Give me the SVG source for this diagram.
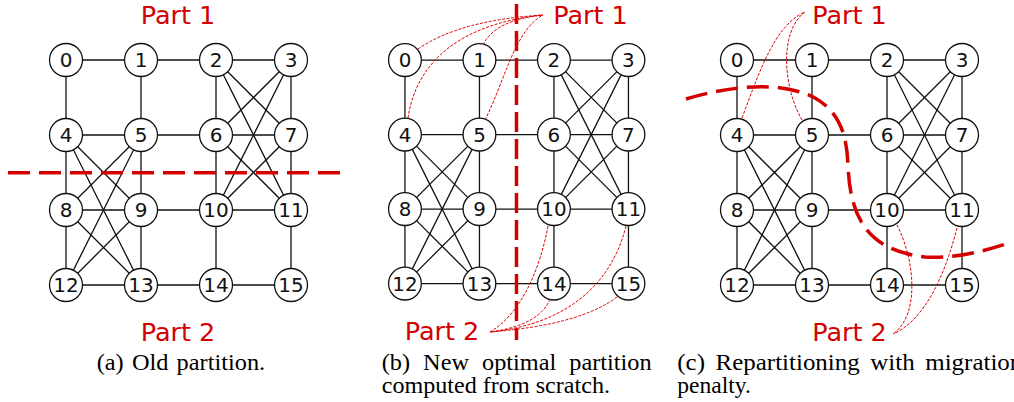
<svg xmlns="http://www.w3.org/2000/svg" width="1014" height="402" viewBox="0 0 1014 402">
<style>
.e{stroke:#111;stroke-width:1.3;fill:none}
.n circle{fill:#fff;stroke:#111;stroke-width:1.3}
.n text{font-family:"DejaVu Sans",sans-serif;font-size:20px;fill:#111;text-anchor:middle}
.part{font-family:"DejaVu Sans",sans-serif;font-size:25.5px;fill:#d40000;text-anchor:middle}
.cut{stroke:#d40000;stroke-width:3.5;fill:none;stroke-dasharray:22 9}
.mig{stroke:#e00000;stroke-width:1;fill:none;stroke-dasharray:3 1.5}
.cap{font-family:"Liberation Serif","Times New Roman",serif;font-size:23px;fill:#000}
</style>
<rect width="1014" height="402" fill="#fff"/>

<!-- Panel A -->
<g id="panel-a">
<g id="a-edges">
<line class="e" x1="66" y1="60" x2="141" y2="60"/><line class="e" x1="141" y1="60" x2="216" y2="60"/><line class="e" x1="216" y1="60" x2="291" y2="60"/>
<line class="e" x1="66" y1="135" x2="141" y2="135"/><line class="e" x1="141" y1="135" x2="216" y2="135"/><line class="e" x1="216" y1="135" x2="291" y2="135"/>
<line class="e" x1="66" y1="210" x2="141" y2="210"/><line class="e" x1="141" y1="210" x2="216" y2="210"/><line class="e" x1="216" y1="210" x2="291" y2="210"/>
<line class="e" x1="66" y1="285" x2="141" y2="285"/><line class="e" x1="141" y1="285" x2="216" y2="285"/><line class="e" x1="216" y1="285" x2="291" y2="285"/>
<line class="e" x1="66" y1="60" x2="66" y2="285"/><line class="e" x1="141" y1="60" x2="141" y2="285"/><line class="e" x1="216" y1="60" x2="216" y2="285"/><line class="e" x1="291" y1="60" x2="291" y2="285"/>
<line class="e" x1="66" y1="135" x2="141" y2="210"/><line class="e" x1="66" y1="135" x2="141" y2="285"/><line class="e" x1="141" y1="135" x2="66" y2="210"/>
<line class="e" x1="141" y1="135" x2="66" y2="285"/><line class="e" x1="66" y1="210" x2="141" y2="285"/><line class="e" x1="141" y1="210" x2="66" y2="285"/>
<line class="e" x1="216" y1="60" x2="291" y2="135"/><line class="e" x1="216" y1="60" x2="291" y2="210"/><line class="e" x1="291" y1="60" x2="216" y2="135"/>
<line class="e" x1="291" y1="60" x2="216" y2="210"/><line class="e" x1="216" y1="135" x2="291" y2="210"/><line class="e" x1="291" y1="135" x2="216" y2="210"/>
</g>
<g id="a-n0" class="n"><circle cx="66" cy="60" r="16.5"/><text x="66" y="67">0</text></g>
<g id="a-n1" class="n"><circle cx="141" cy="60" r="16.5"/><text x="141" y="67">1</text></g>
<g id="a-n2" class="n"><circle cx="216" cy="60" r="16.5"/><text x="216" y="67">2</text></g>
<g id="a-n3" class="n"><circle cx="291" cy="60" r="16.5"/><text x="291" y="67">3</text></g>
<g id="a-n4" class="n"><circle cx="66" cy="135" r="16.5"/><text x="66" y="142">4</text></g>
<g id="a-n5" class="n"><circle cx="141" cy="135" r="16.5"/><text x="141" y="142">5</text></g>
<g id="a-n6" class="n"><circle cx="216" cy="135" r="16.5"/><text x="216" y="142">6</text></g>
<g id="a-n7" class="n"><circle cx="291" cy="135" r="16.5"/><text x="291" y="142">7</text></g>
<g id="a-n8" class="n"><circle cx="66" cy="210" r="16.5"/><text x="66" y="217">8</text></g>
<g id="a-n9" class="n"><circle cx="141" cy="210" r="16.5"/><text x="141" y="217">9</text></g>
<g id="a-n10" class="n"><circle cx="216" cy="210" r="16.5"/><text x="216" y="217">10</text></g>
<g id="a-n11" class="n"><circle cx="291" cy="210" r="16.5"/><text x="291" y="217">11</text></g>
<g id="a-n12" class="n"><circle cx="66" cy="285" r="16.5"/><text x="66" y="292">12</text></g>
<g id="a-n13" class="n"><circle cx="141" cy="285" r="16.5"/><text x="141" y="292">13</text></g>
<g id="a-n14" class="n"><circle cx="216" cy="285" r="16.5"/><text x="216" y="292">14</text></g>
<g id="a-n15" class="n"><circle cx="291" cy="285" r="16.5"/><text x="291" y="292">15</text></g>
</g>

<!-- Panel B -->
<g id="panel-b" transform="translate(339.4,0.5) scale(0.9933)">
<g id="b-edges">
<line class="e" x1="66" y1="60" x2="141" y2="60"/><line class="e" x1="141" y1="60" x2="216" y2="60"/><line class="e" x1="216" y1="60" x2="291" y2="60"/>
<line class="e" x1="66" y1="135" x2="141" y2="135"/><line class="e" x1="141" y1="135" x2="216" y2="135"/><line class="e" x1="216" y1="135" x2="291" y2="135"/>
<line class="e" x1="66" y1="210" x2="141" y2="210"/><line class="e" x1="141" y1="210" x2="216" y2="210"/><line class="e" x1="216" y1="210" x2="291" y2="210"/>
<line class="e" x1="66" y1="285" x2="141" y2="285"/><line class="e" x1="141" y1="285" x2="216" y2="285"/><line class="e" x1="216" y1="285" x2="291" y2="285"/>
<line class="e" x1="66" y1="60" x2="66" y2="285"/><line class="e" x1="141" y1="60" x2="141" y2="285"/><line class="e" x1="216" y1="60" x2="216" y2="285"/><line class="e" x1="291" y1="60" x2="291" y2="285"/>
<line class="e" x1="66" y1="135" x2="141" y2="210"/><line class="e" x1="66" y1="135" x2="141" y2="285"/><line class="e" x1="141" y1="135" x2="66" y2="210"/>
<line class="e" x1="141" y1="135" x2="66" y2="285"/><line class="e" x1="66" y1="210" x2="141" y2="285"/><line class="e" x1="141" y1="210" x2="66" y2="285"/>
<line class="e" x1="216" y1="60" x2="291" y2="135"/><line class="e" x1="216" y1="60" x2="291" y2="210"/><line class="e" x1="291" y1="60" x2="216" y2="135"/>
<line class="e" x1="291" y1="60" x2="216" y2="210"/><line class="e" x1="216" y1="135" x2="291" y2="210"/><line class="e" x1="291" y1="135" x2="216" y2="210"/>
</g>
<g id="b-n0" class="n"><circle cx="66" cy="60" r="16.5"/><text x="66" y="67">0</text></g>
<g id="b-n1" class="n"><circle cx="141" cy="60" r="16.5"/><text x="141" y="67">1</text></g>
<g id="b-n2" class="n"><circle cx="216" cy="60" r="16.5"/><text x="216" y="67">2</text></g>
<g id="b-n3" class="n"><circle cx="291" cy="60" r="16.5"/><text x="291" y="67">3</text></g>
<g id="b-n4" class="n"><circle cx="66" cy="135" r="16.5"/><text x="66" y="142">4</text></g>
<g id="b-n5" class="n"><circle cx="141" cy="135" r="16.5"/><text x="141" y="142">5</text></g>
<g id="b-n6" class="n"><circle cx="216" cy="135" r="16.5"/><text x="216" y="142">6</text></g>
<g id="b-n7" class="n"><circle cx="291" cy="135" r="16.5"/><text x="291" y="142">7</text></g>
<g id="b-n8" class="n"><circle cx="66" cy="210" r="16.5"/><text x="66" y="217">8</text></g>
<g id="b-n9" class="n"><circle cx="141" cy="210" r="16.5"/><text x="141" y="217">9</text></g>
<g id="b-n10" class="n"><circle cx="216" cy="210" r="16.5"/><text x="216" y="217">10</text></g>
<g id="b-n11" class="n"><circle cx="291" cy="210" r="16.5"/><text x="291" y="217">11</text></g>
<g id="b-n12" class="n"><circle cx="66" cy="285" r="16.5"/><text x="66" y="292">12</text></g>
<g id="b-n13" class="n"><circle cx="141" cy="285" r="16.5"/><text x="141" y="292">13</text></g>
<g id="b-n14" class="n"><circle cx="216" cy="285" r="16.5"/><text x="216" y="292">14</text></g>
<g id="b-n15" class="n"><circle cx="291" cy="285" r="16.5"/><text x="291" y="292">15</text></g>
</g>

<!-- Panel C -->
<g id="panel-c" transform="translate(671,0)">
<g id="c-edges">
<line class="e" x1="66" y1="60" x2="141" y2="60"/><line class="e" x1="141" y1="60" x2="216" y2="60"/><line class="e" x1="216" y1="60" x2="291" y2="60"/>
<line class="e" x1="66" y1="135" x2="141" y2="135"/><line class="e" x1="141" y1="135" x2="216" y2="135"/><line class="e" x1="216" y1="135" x2="291" y2="135"/>
<line class="e" x1="66" y1="210" x2="141" y2="210"/><line class="e" x1="141" y1="210" x2="216" y2="210"/><line class="e" x1="216" y1="210" x2="291" y2="210"/>
<line class="e" x1="66" y1="285" x2="141" y2="285"/><line class="e" x1="141" y1="285" x2="216" y2="285"/><line class="e" x1="216" y1="285" x2="291" y2="285"/>
<line class="e" x1="66" y1="60" x2="66" y2="285"/><line class="e" x1="141" y1="60" x2="141" y2="285"/><line class="e" x1="216" y1="60" x2="216" y2="285"/><line class="e" x1="291" y1="60" x2="291" y2="285"/>
<line class="e" x1="66" y1="135" x2="141" y2="210"/><line class="e" x1="66" y1="135" x2="141" y2="285"/><line class="e" x1="141" y1="135" x2="66" y2="210"/>
<line class="e" x1="141" y1="135" x2="66" y2="285"/><line class="e" x1="66" y1="210" x2="141" y2="285"/><line class="e" x1="141" y1="210" x2="66" y2="285"/>
<line class="e" x1="216" y1="60" x2="291" y2="135"/><line class="e" x1="216" y1="60" x2="291" y2="210"/><line class="e" x1="291" y1="60" x2="216" y2="135"/>
<line class="e" x1="291" y1="60" x2="216" y2="210"/><line class="e" x1="216" y1="135" x2="291" y2="210"/><line class="e" x1="291" y1="135" x2="216" y2="210"/>
</g>
<g id="c-n0" class="n"><circle cx="66" cy="60" r="16.5"/><text x="66" y="67">0</text></g>
<g id="c-n1" class="n"><circle cx="141" cy="60" r="16.5"/><text x="141" y="67">1</text></g>
<g id="c-n2" class="n"><circle cx="216" cy="60" r="16.5"/><text x="216" y="67">2</text></g>
<g id="c-n3" class="n"><circle cx="291" cy="60" r="16.5"/><text x="291" y="67">3</text></g>
<g id="c-n4" class="n"><circle cx="66" cy="135" r="16.5"/><text x="66" y="142">4</text></g>
<g id="c-n5" class="n"><circle cx="141" cy="135" r="16.5"/><text x="141" y="142">5</text></g>
<g id="c-n6" class="n"><circle cx="216" cy="135" r="16.5"/><text x="216" y="142">6</text></g>
<g id="c-n7" class="n"><circle cx="291" cy="135" r="16.5"/><text x="291" y="142">7</text></g>
<g id="c-n8" class="n"><circle cx="66" cy="210" r="16.5"/><text x="66" y="217">8</text></g>
<g id="c-n9" class="n"><circle cx="141" cy="210" r="16.5"/><text x="141" y="217">9</text></g>
<g id="c-n10" class="n"><circle cx="216" cy="210" r="16.5"/><text x="216" y="217">10</text></g>
<g id="c-n11" class="n"><circle cx="291" cy="210" r="16.5"/><text x="291" y="217">11</text></g>
<g id="c-n12" class="n"><circle cx="66" cy="285" r="16.5"/><text x="66" y="292">12</text></g>
<g id="c-n13" class="n"><circle cx="141" cy="285" r="16.5"/><text x="141" y="292">13</text></g>
<g id="c-n14" class="n"><circle cx="216" cy="285" r="16.5"/><text x="216" y="292">14</text></g>
<g id="c-n15" class="n"><circle cx="291" cy="285" r="16.5"/><text x="291" y="292">15</text></g>
</g>

<!-- Partition cuts and migration leaders -->
<g id="partition-overlays">
<path class="cut" d="M8,172.7 H348"/>
<path class="cut" d="M516.5,4 V340" style="stroke-dasharray:20 7"/>
<path class="cut" d="M686,99 C730,86 780,80 815,98 C842,113 847,140 848,165 C850,215 865,250 925,257 C955,259 985,251 1012,242"/>
<path class="mig" d="M418,49 Q460,20 543,15"/>
<path class="mig" d="M408,118 C415,70 450,25 543,15"/>
<path class="mig" d="M483,45 Q495,20 543,15"/>
<path class="mig" d="M485,120 C505,80 515,30 543,15"/>
<path class="mig" d="M548,226 C540,270 520,315 490,332"/>
<path class="mig" d="M550,299 Q540,325 490,332"/>
<path class="mig" d="M626,226 C610,290 560,325 490,332"/>
<path class="mig" d="M617,297 Q580,325 490,332"/>
<path class="mig" d="M742,118 C760,70 775,25 805,12"/>
<path class="mig" d="M802,120 C782,85 780,30 805,12"/>
<path class="mig" d="M897,225 C915,260 920,315 893,334"/>
<path class="mig" d="M957,228 C945,275 925,320 893,334"/>
</g>

<g id="labels">
<text class="part" x="178" y="23.5">Part 1</text>
<text class="part" x="178" y="340.5">Part 2</text>
<text class="part" x="590.5" y="23.5">Part 1</text>
<text class="part" x="442" y="339.5">Part 2</text>
<text class="part" x="849.5" y="23.5">Part 1</text>
<text class="part" x="849.5" y="340.5">Part 2</text>
</g>

<g id="captions">
<text class="cap" x="96.7" y="370" textLength="168.5" lengthAdjust="spacingAndGlyphs" style="word-spacing:2px">(a) Old partition.</text>
<text class="cap" x="381.7" y="369.5" textLength="270" lengthAdjust="spacingAndGlyphs" style="word-spacing:6.6px">(b) New optimal partition</text>
<text class="cap" x="381.7" y="393" textLength="228.3" lengthAdjust="spacingAndGlyphs">computed from scratch.</text>
<text class="cap" x="677.3" y="369.5" textLength="345" lengthAdjust="spacingAndGlyphs" style="word-spacing:4px">(c) Repartitioning with migration</text>
<text class="cap" x="677.3" y="393" textLength="73.7" lengthAdjust="spacingAndGlyphs">penalty.</text>
</g>
</svg>
